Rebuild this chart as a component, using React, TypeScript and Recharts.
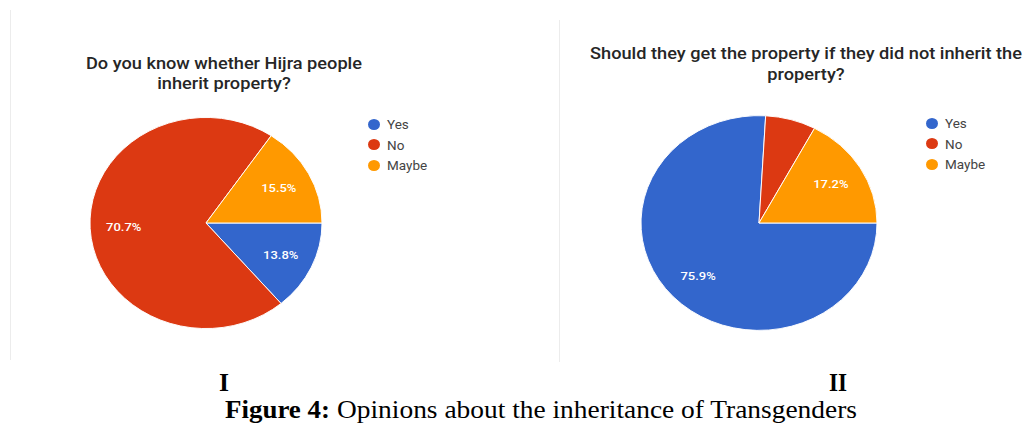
import React from "react";
import { PieChart, Pie, Cell } from "recharts";

const categories = ["Yes", "No", "Maybe"];
const sliceColors = ["#3366cc", "#dc3912", "#ff9900"];
const knowValues = [13.8, 70.7, 15.5];
const shouldValues = [75.9, 6.9, 17.2];

const knowTitle = ["Do you know whether Hijra people", "inherit property?"];
const shouldTitle = [
  "Should they get the property if they did not inherit the",
  "property?",
];

const knowData = categories.map((name, i) => ({ name, value: knowValues[i] }));
const shouldData = categories.map((name, i) => ({
  name,
  value: shouldValues[i],
}));

const RAD = Math.PI / 180;
// the source picture is squashed vertically a little
const SQUISH = 0.91;

const renderLabel = (props: any) => {
  const { cx, cy, midAngle, outerRadius, value } = props;
  if (value < 10) return null;
  const r = outerRadius * 0.71;
  const x = cx + r * Math.cos(-midAngle * RAD);
  const y = cy + r * Math.sin(-midAngle * RAD);
  return (
    <text
      x={x}
      y={y}
      fill="#fff"
      fontSize={13}
      fontWeight={500}
      fontFamily="Roboto, Arial, sans-serif"
      textAnchor="middle"
      dominantBaseline="central"
    >
      {value.toFixed(1)}%
    </text>
  );
};

const Legend: React.FC<{ left: number; top: number }> = ({ left, top }) => (
  <div style={{ position: "absolute", left, top }}>
    {categories.map((c, i) => (
      <div
        key={c}
        style={{
          display: "flex",
          alignItems: "center",
          height: 20.5,
          fontFamily: "Roboto, Arial, sans-serif",
          fontSize: 13.5,
          color: "#444",
        }}
      >
        <div
          style={{
            width: 12,
            height: 11,
            borderRadius: "50%",
            backgroundColor: sliceColors[i],
            marginRight: 7,
          }}
        />
        {c}
      </div>
    ))}
  </div>
);

const Title: React.FC<{
  lines: string[];
  center: number;
  top: number;
  lineHeight: number;
}> = ({ lines, center, top, lineHeight }) => (
  <div
    style={{
      position: "absolute",
      left: center - 260,
      width: 520,
      top,
      textAlign: "center",
      fontFamily: "Roboto, Arial, sans-serif",
      fontWeight: 500,
      fontSize: 18.2,
      lineHeight: `${lineHeight}px`,
      color: "#262626",
      transform: `scaleY(${SQUISH})`,
      transformOrigin: "50% 0",
    }}
  >
    {lines.map((l) => (
      <div key={l}>{l}</div>
    ))}
  </div>
);

export default function App() {
  return (
    <div
      style={{
        position: "absolute",
        left: 0,
        top: 0,
        width: 1027,
        height: 427,
        background: "#fff",
        overflow: "hidden",
      }}
    >
      <div
        style={{
          position: "absolute",
          left: 10,
          top: 10,
          width: 1,
          height: 350,
          background: "#ececec",
        }}
      />
      <div
        style={{
          position: "absolute",
          left: 559,
          top: 20,
          width: 1,
          height: 342,
          background: "#ececec",
        }}
      />

      <Title lines={knowTitle} center={224} top={54} lineHeight={21} />
      <Title lines={shouldTitle} center={806} top={43} lineHeight={23} />

      <div
        style={{
          position: "absolute",
          left: 0,
          top: 0,
          transform: `scaleY(${SQUISH})`,
          transformOrigin: "0 223px",
        }}
      >
        <PieChart
          width={1027}
          height={400}
          margin={{ top: 0, right: 0, bottom: 0, left: 0 }}
        >
          <Pie
            data={knowData}
            dataKey="value"
            cx={206}
            cy={223}
            outerRadius={116}
            startAngle={0}
            endAngle={-360}
            stroke="#fff"
            strokeWidth={1}
            label={renderLabel}
            labelLine={false}
            isAnimationActive={false}
          >
            {knowData.map((d, i) => (
              <Cell key={d.name} fill={sliceColors[i]} />
            ))}
          </Pie>
          <Pie
            data={shouldData}
            dataKey="value"
            cx={759}
            cy={223}
            outerRadius={118}
            startAngle={0}
            endAngle={-360}
            stroke="#fff"
            strokeWidth={1}
            label={renderLabel}
            labelLine={false}
            isAnimationActive={false}
          >
            {shouldData.map((d, i) => (
              <Cell key={d.name} fill={sliceColors[i]} />
            ))}
          </Pie>
        </PieChart>
      </div>

      <Legend left={368} top={114} />
      <Legend left={926} top={113} />

      <svg
        width={1027}
        height={67}
        style={{ position: "absolute", left: 0, top: 360 }}
        fontFamily="'Liberation Serif', 'Times New Roman', serif"
        fill="#000"
      >
        <text
          x={219}
          y={31}
          fontSize={26}
          fontWeight="bold"
          textLength={10}
          lengthAdjust="spacingAndGlyphs"
        >
          I
        </text>
        <text
          x={829}
          y={31}
          fontSize={26}
          fontWeight="bold"
          textLength={18}
          lengthAdjust="spacingAndGlyphs"
        >
          II
        </text>
        <text
          x={225}
          y={58}
          fontSize={26}
          fontWeight="bold"
          textLength={105}
          lengthAdjust="spacingAndGlyphs"
        >
          Figure 4:
        </text>
        <text
          x={337}
          y={58}
          fontSize={26}
          textLength={520}
          lengthAdjust="spacingAndGlyphs"
        >
          Opinions about the inheritance of Transgenders
        </text>
      </svg>
    </div>
  );
}
